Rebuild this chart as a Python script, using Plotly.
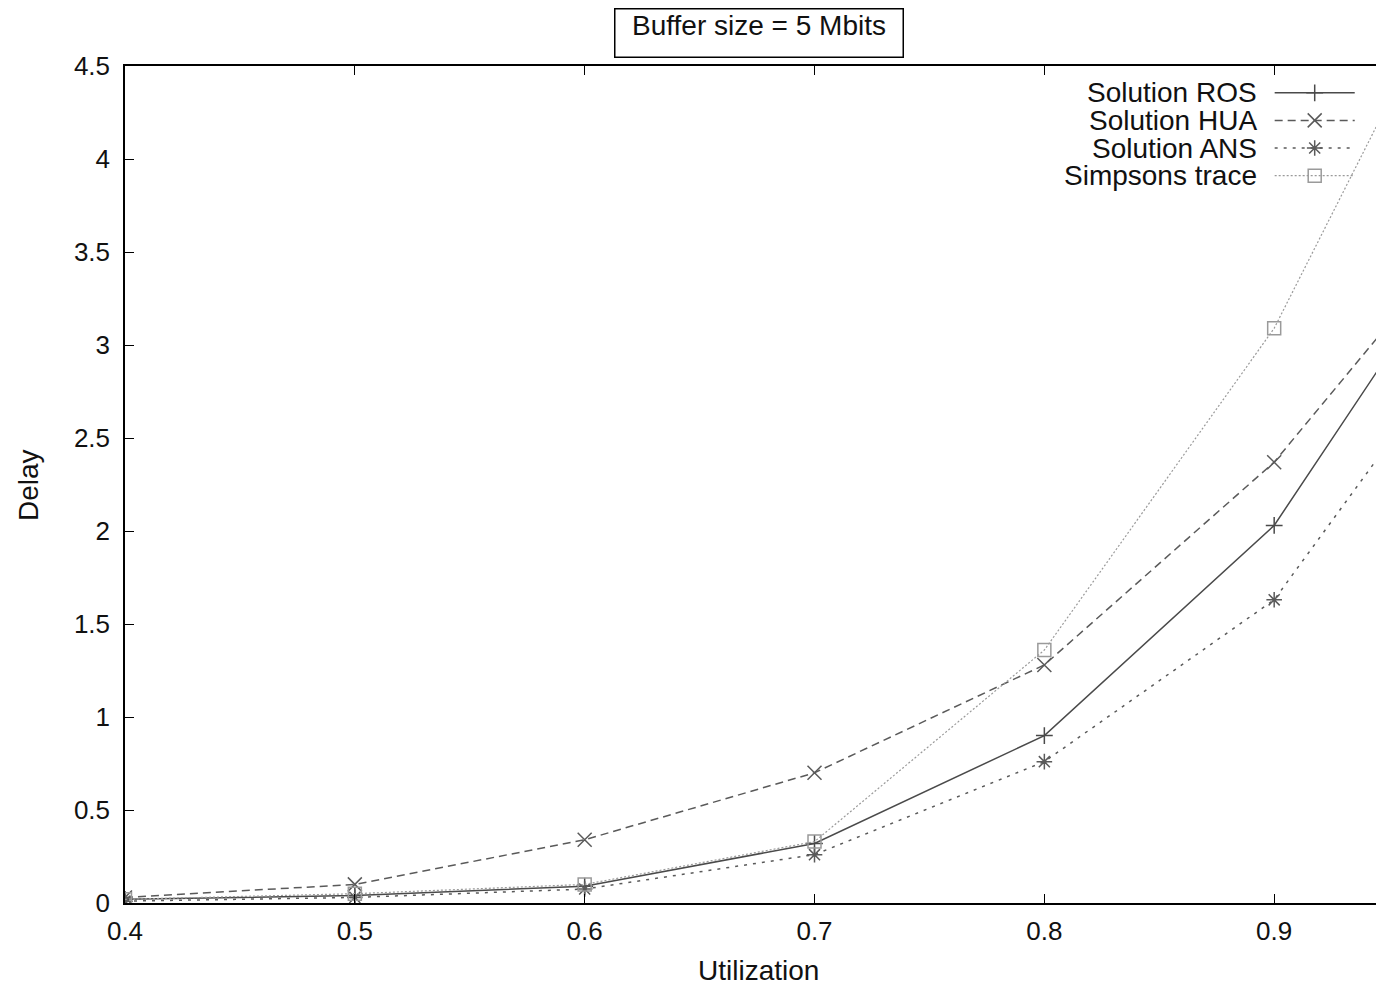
import plotly.graph_objects as go

utilization = [0.4, 0.5, 0.6, 0.7, 0.8, 0.9, 1.0]
ros = [0.02, 0.04, 0.09, 0.32, 0.90, 2.03, 3.88]
hua = [0.03, 0.10, 0.34, 0.70, 1.28, 2.37, 3.86]
ans = [0.01, 0.03, 0.075, 0.26, 0.76, 1.63, 3.32]
simpsons = [0.02, 0.05, 0.10, 0.33, 1.36, 3.09, 5.53]

series_names = ["Solution ROS", "Solution HUA", "Solution ANS", "Simpsons trace"]
x_ticks = [0.4, 0.5, 0.6, 0.7, 0.8, 0.9]
y_ticks = [0, 0.5, 1, 1.5, 2, 2.5, 3, 3.5, 4, 4.5]

styles = [
    dict(color="#4a4a4a", dash="solid", width=1.5, symbol="cross-thin", size=12),
    dict(color="#5a5a5a", dash="8px,5px", width=1.5, symbol="x-thin", size=14),
    dict(color="#5a5a5a", dash="3px,6px", width=1.5, symbol="asterisk-open", size=13),
    dict(color="#9a9a9a", dash="2px,2px", width=1.2, symbol="square-open", size=13),
]
data = [ros, hua, ans, simpsons]

FONT = "Liberation Sans, Arial, Helvetica, sans-serif"
fig = go.Figure()
for name, ys, st in zip(series_names, data, styles):
    fig.add_trace(go.Scatter(
        x=utilization, y=ys, name=name, mode="lines+markers",
        line=dict(color=st["color"], dash=st["dash"], width=st["width"]),
        marker=dict(symbol=st["symbol"], size=st["size"], color=st["color"],
                    line=dict(color=st["color"], width=1.5)),
        showlegend=False, cliponaxis=True,
    ))

# manual gnuplot-style legend (in plot-fraction coordinates via overlay axes)
leg_rows = [0.968, 0.935, 0.902, 0.869]
for name, st, yr in zip(series_names, styles, leg_rows):
    fig.add_trace(go.Scatter(
        x=[0.919, 0.983], y=[yr, yr], mode="lines", xaxis="x2", yaxis="y2",
        line=dict(color=st["color"], dash=st["dash"], width=st["width"]),
        showlegend=False, hoverinfo="skip"))
    fig.add_trace(go.Scatter(
        x=[0.951], y=[yr], mode="markers", xaxis="x2", yaxis="y2",
        marker=dict(symbol=st["symbol"], size=st["size"], color=st["color"],
                    line=dict(color=st["color"], width=1.5)),
        showlegend=False, hoverinfo="skip"))
    fig.add_annotation(text=name, x=0.906, y=yr, xref="paper", yref="paper",
                       xanchor="right", yanchor="middle", showarrow=False, borderpad=0,
                       font=dict(family=FONT, size=28, color="#111"))

fig.update_layout(
    width=1376, height=986,
    margin=dict(l=125, r=0, t=66, b=83),
    paper_bgcolor="white", plot_bgcolor="white",
    font=dict(family=FONT, size=26, color="#111"),
    xaxis=dict(range=[0.4, 0.9443], tickvals=x_ticks, ticktext=[str(v) for v in x_ticks],
               showgrid=False, zeroline=False, showline=True, linecolor="black", linewidth=1.5,
               mirror="ticks", ticks="inside", ticklen=9, tickcolor="black", tickwidth=1.2,
               ticklabelstandoff=4,
               tickfont=dict(family=FONT, size=26, color="#111")),
    yaxis=dict(range=[0, 4.5], tickvals=y_ticks, showgrid=False, zeroline=False,
               showline=True, linecolor="black", linewidth=1.5, mirror=False,
               ticks="inside", ticklen=9, tickcolor="black", tickwidth=1.2,
               ticklabelstandoff=8,
               tickfont=dict(family=FONT, size=26, color="#111")),
    xaxis2=dict(overlaying="x", range=[0, 1], visible=False),
    yaxis2=dict(overlaying="y", range=[0, 1], visible=False),
)

# boxed title
fig.add_annotation(text="Buffer size = 5 Mbits", x=0.5064, y=1.0693, xref="paper", yref="paper",
                   xanchor="center", yanchor="top", showarrow=False, width=287, height=47,
                   valign="top", align="center", bordercolor="black", borderwidth=1.5, borderpad=0,
                   font=dict(family=FONT, size=28, color="#111"))
fig.add_annotation(text="Utilization", x=0.5064, y=-0.0998, xref="paper", yref="paper",
                   xanchor="center", yanchor="bottom", showarrow=False, borderpad=0,
                   font=dict(family=FONT, size=28, color="#111"))
fig.add_annotation(text="Delay", x=-0.0775, y=0.4994, xref="paper", yref="paper",
                   xanchor="center", yanchor="middle", showarrow=False, textangle=-90,
                   font=dict(family=FONT, size=28, color="#111"))

# remove the default 8px page margin so the figure fills the window exactly
fig.write_html("out.html", config={"displayModeBar": False},
               post_script="document.body.style.margin='0px';document.body.style.overflow='hidden';")
